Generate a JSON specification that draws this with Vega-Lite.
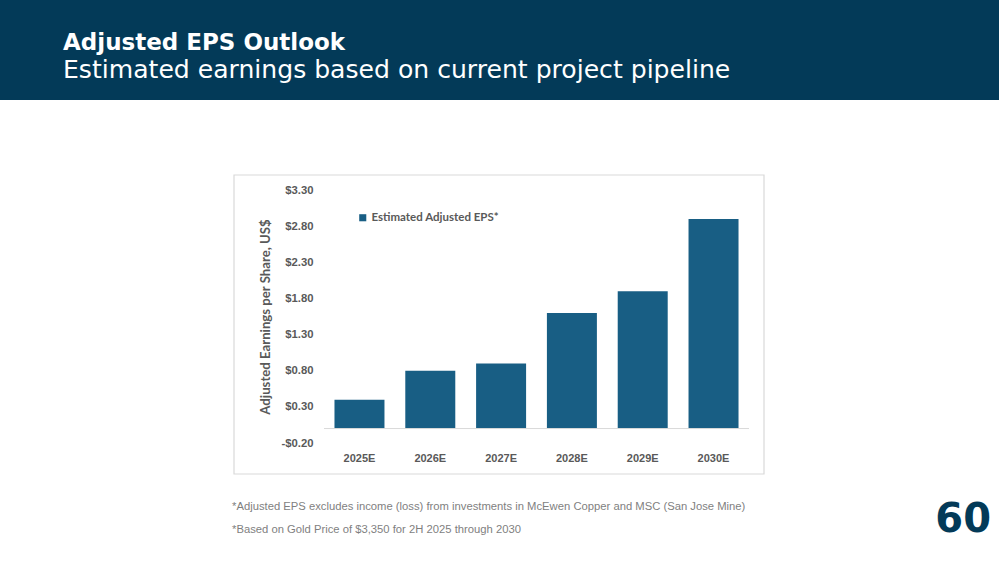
{
  "$schema": "https://vega.github.io/schema/vega-lite/v6.json",
  "width": 425,
  "height": 253,
  "autosize": {"type": "none"},
  "padding": {"left": 324, "top": 190, "right": 250, "bottom": 119},
  "background": "white",
  "config": {"view": {"stroke": null}},
  "layer": [
    {
      "data": {"values": [{"item": "chart area"}]},
      "mark": {"type": "rect", "fill": "white", "fillOpacity": 0, "stroke": "#d9d9d9", "strokeWidth": 1.2},
      "encoding": {"x": {"value": -90}, "x2": {"value": 440}, "y": {"value": -15}, "y2": {"value": 284}}
    },
    {
      "data": {"values": [{"item": "banner"}]},
      "mark": {"type": "rect", "fill": "#033a58"},
      "encoding": {"x": {"value": -324}, "x2": {"value": 675}, "y": {"value": -190}, "y2": {"value": -90}}
    },
    {
      "data": {"values": [
        {"year": "2025E", "eps": 0.40, "series": "Estimated Adjusted EPS*"},
        {"year": "2026E", "eps": 0.80, "series": "Estimated Adjusted EPS*"},
        {"year": "2027E", "eps": 0.90, "series": "Estimated Adjusted EPS*"},
        {"year": "2028E", "eps": 1.60, "series": "Estimated Adjusted EPS*"},
        {"year": "2029E", "eps": 1.90, "series": "Estimated Adjusted EPS*"},
        {"year": "2030E", "eps": 2.90, "series": "Estimated Adjusted EPS*"}
      ]},
      "mark": {"type": "bar"},
      "encoding": {
        "x": {
          "field": "year", "type": "nominal", "sort": null,
          "scale": {"paddingInner": 0.294, "paddingOuter": 0.148},
          "axis": {"title": null, "labelAngle": 0, "ticks": false, "domain": false, "labelPadding": 9,
                   "labelFont": "Liberation Sans", "labelFontWeight": "bold", "labelFontSize": 11, "labelColor": "#595959"}
        },
        "y": {
          "field": "eps", "type": "quantitative",
          "scale": {"domain": [-0.2, 3.3], "nice": false, "zero": false},
          "axis": {
            "title": "Adjusted Earnings per Share, US$",
            "values": [-0.2, 0.3, 0.8, 1.3, 1.8, 2.3, 2.8, 3.3],
            "tickCount": 20,
            "labelExpr": "datum.value < 0 ? '-$' + format(-datum.value, '.2f') : '$' + format(datum.value, '.2f')",
            "labelOverlap": false, "labelFlush": false, "labelBound": false,
            "grid": false, "ticks": false, "domain": false, "labelPadding": 11,
            "labelFont": "Liberation Sans", "labelFontWeight": "bold", "labelFontSize": 11.3, "labelColor": "#595959",
            "titleFont": "Lato", "titleFontWeight": "bold", "titleFontSize": 13.2, "titleColor": "#595959", "titlePadding": 8
          }
        },
        "color": {
          "field": "series", "type": "nominal",
          "scale": {"range": ["#185e84"]},
          "legend": {
            "title": null, "orient": "none", "legendX": 33, "legendY": 22,
            "symbolType": "square", "symbolSize": 50, "labelOffset": 3,
            "labelFont": "Lato", "labelFontWeight": "bold", "labelFontSize": 11.5, "labelColor": "#595959"
          }
        }
      }
    },
    {
      "data": {"values": [{"baseline": 0}]},
      "mark": {"type": "rule", "color": "#d9d9d9", "strokeWidth": 1},
      "encoding": {"y": {"field": "baseline", "type": "quantitative"}}
    },
    {
      "data": {"values": [{"text": "Adjusted EPS Outlook"}]},
      "mark": {"type": "text", "align": "left", "baseline": "alphabetic", "font": "DejaVu Sans", "fontWeight": "bold", "fontSize": 23, "color": "white"},
      "encoding": {"text": {"field": "text"}, "x": {"value": -261}, "y": {"value": -140}}
    },
    {
      "data": {"values": [{"text": "Estimated earnings based on current project pipeline"}]},
      "mark": {"type": "text", "align": "left", "baseline": "alphabetic", "font": "DejaVu Sans", "fontWeight": 400, "fontSize": 25.1, "color": "white"},
      "encoding": {"text": {"field": "text"}, "x": {"value": -261}, "y": {"value": -112}}
    },
    {
      "data": {"values": [{"text": "*Adjusted EPS excludes income (loss) from investments in McEwen Copper and MSC (San Jose Mine)"}]},
      "mark": {"type": "text", "align": "left", "baseline": "middle", "font": "Liberation Sans", "fontSize": 11.25, "color": "#7f7f7f"},
      "encoding": {"text": {"field": "text"}, "x": {"value": -92}, "y": {"value": 317}}
    },
    {
      "data": {"values": [{"text": "*Based on Gold Price of $3,350 for 2H 2025 through 2030"}]},
      "mark": {"type": "text", "align": "left", "baseline": "middle", "font": "Liberation Sans", "fontSize": 11.25, "color": "#7f7f7f"},
      "encoding": {"text": {"field": "text"}, "x": {"value": -92}, "y": {"value": 340}}
    },
    {
      "data": {"values": [{"text": "60"}]},
      "mark": {"type": "text", "align": "right", "baseline": "alphabetic", "font": "DejaVu Sans", "fontWeight": "bold", "fontSize": 40, "color": "#033a58"},
      "encoding": {"text": {"field": "text"}, "x": {"value": 667}, "y": {"value": 342}}
    }
  ]
}
